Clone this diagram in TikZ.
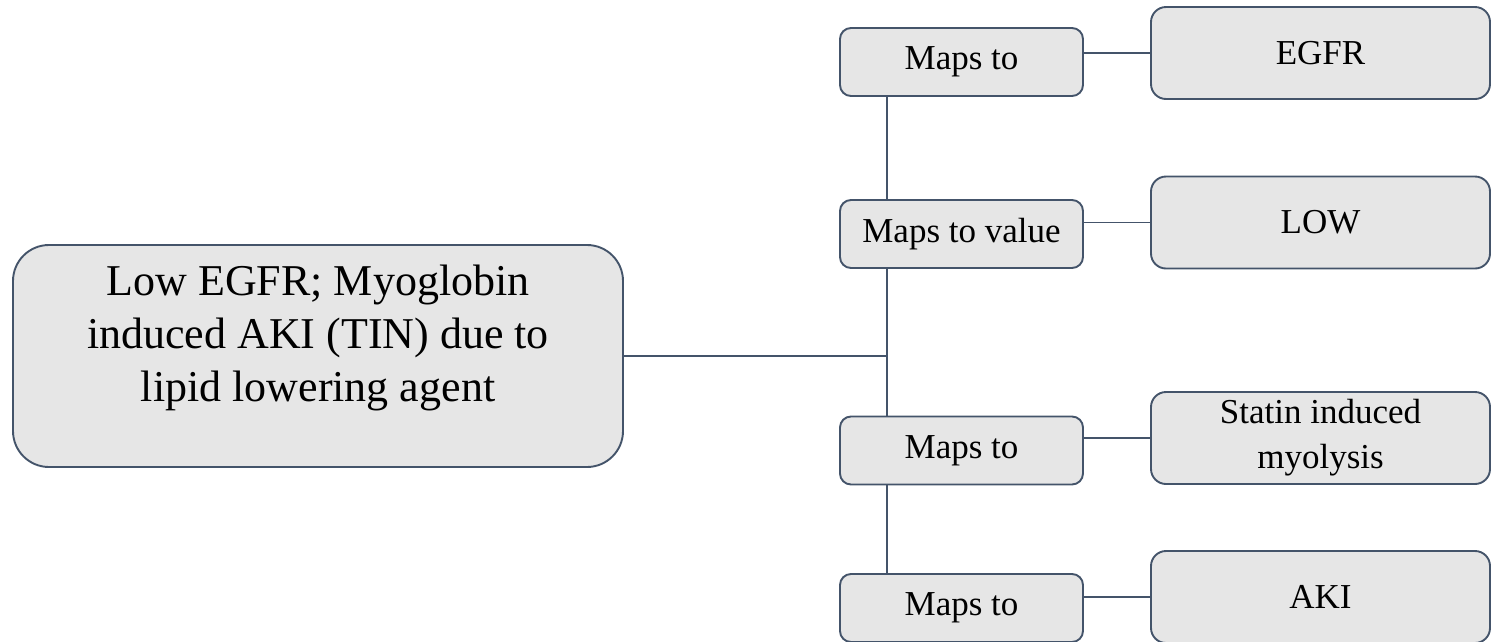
\documentclass[tikz,border=0pt]{standalone}
\usepackage{fontspec}
\setmainfont{Liberation Serif}
\usepackage{tikz}
\usepackage{xcolor}
\usetikzlibrary{positioning, calc}

\definecolor{edgeblue}{HTML}{44546A}
\definecolor{boxgray}{HTML}{E6E6E6}

\begin{document}
\begin{tikzpicture}[x=1pt, y=-1pt,
  box/.style={draw=edgeblue, line width=1.9pt, fill=boxgray, rounded corners=#1, inner sep=0pt},
  box/.default=10pt,
  mapbox/.style={box=11pt, minimum width=243pt, minimum height=68pt, font=\fontsize{35}{45}\selectfont},
  termbox/.style={box=15pt, minimum width=339pt, minimum height=92pt, align=center, font=\fontsize{35}{45}\selectfont},
  mainbox/.style={box=36pt, minimum width=610pt, minimum height=222pt},
  link/.style={draw=edgeblue, line width=1.9pt}]

  \useasboundingbox (0,0) rectangle (1491,641);

  % Source box
  \node[mainbox] (main) at (318,356) {};
  \node[align=center, font=\fontsize{44}{53}\selectfont] (maintext) at (318,338)
    {Low EGFR; Myoglobin\\induced AKI (TIN) due to\\lipid lowering agent};

  % Relation boxes
  \foreach \i/\y/\t in {1/62/{Maps to}, 2/234/{Maps to value}, 3/450.5/{Maps to}, 4/608/{Maps to}}
    \node[mapbox] (m\i) at (961.5,\y) {\t};

  % Target boxes
  \foreach \i/\y/\t in {1/53/{EGFR}, 2/222.5/{LOW}, 3/438/{Statin induced\\myolysis}, 4/597/{AKI}}
    \node[termbox] (t\i) at (1320.5,\y) {\t};

  % Trunk
  \coordinate (trunk) at (887,356);
  \draw[link] (main.east) -- (main.east -| trunk);
  \foreach \a/\b in {1/2, 2/3, 3/4}
    \draw[link] (m\a.south -| trunk) -- (m\b.north -| trunk);

  % Branches
  \foreach \i in {1,...,4}
    \draw[link] (m\i.east |- t\i.west) -- (t\i.west);

\end{tikzpicture}
\end{document}
